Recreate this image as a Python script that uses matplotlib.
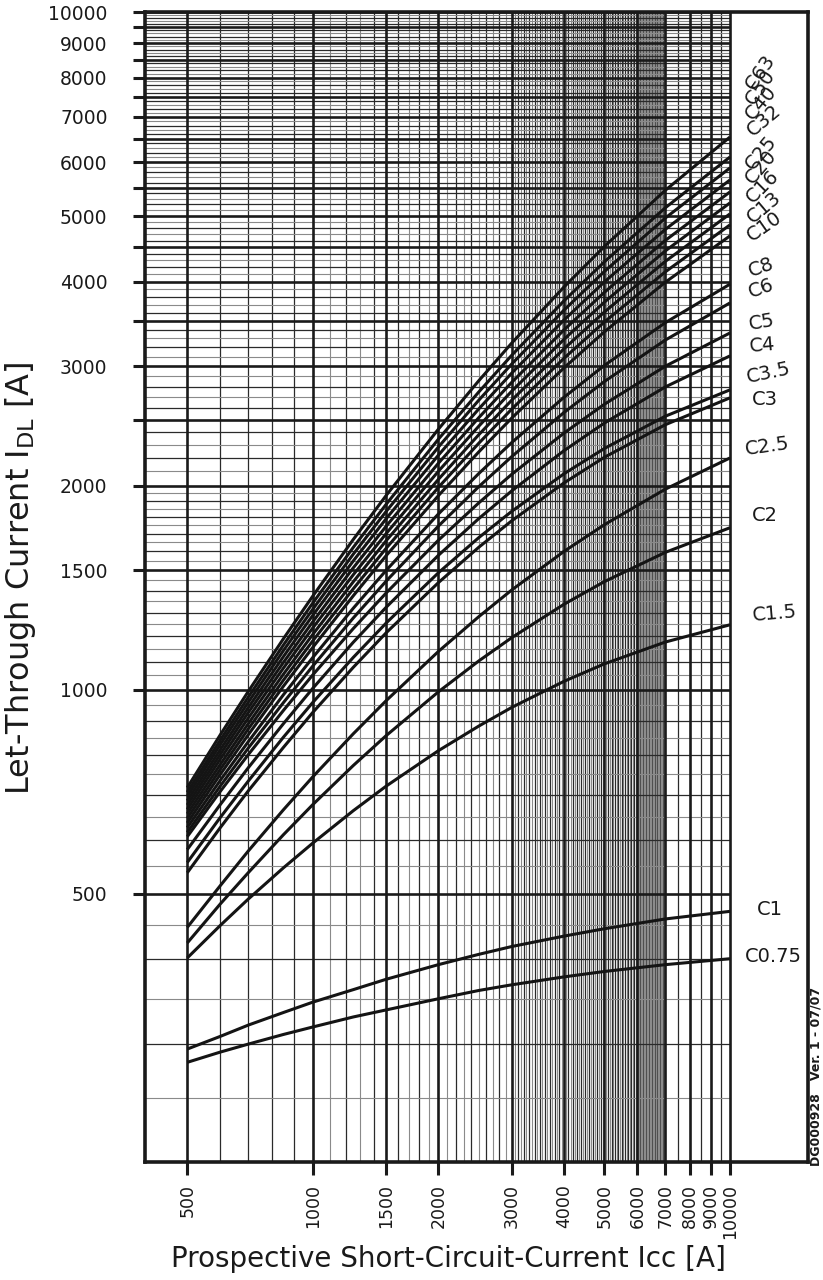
import numpy as np
import matplotlib
matplotlib.use("Agg")
import matplotlib.pyplot as plt
from matplotlib.ticker import FixedLocator, FixedFormatter, NullLocator

# ---------------- data ----------------
x_points = [500, 600, 700, 850, 1000, 1250, 1500, 2000, 2500, 3000, 4000, 5000, 7000, 10000]

C63  = [717, 858, 994, 1189, 1375, 1666, 1936, 2424, 2858, 3249, 3929, 4509, 5458, 6540]
C50  = [706, 843, 975, 1164, 1343, 1622, 1879, 2343, 2751, 3117, 3749, 4280, 5143, 6110]
C40  = [696, 830, 958, 1142, 1315, 1585, 1834, 2281, 2675, 3026, 3632, 4142, 4967, 5888]
C32  = [686, 816, 941, 1119, 1288, 1549, 1789, 2219, 2597, 2934, 3512, 3998, 4779, 5652]
C25  = [676, 803, 925, 1097, 1260, 1513, 1744, 2159, 2521, 2843, 3396, 3859, 4603, 5427]
C20  = [666, 790, 908, 1076, 1234, 1478, 1701, 2101, 2449, 2759, 3289, 3732, 4442, 5228]
C16  = [656, 776, 891, 1054, 1207, 1443, 1660, 2044, 2379, 2676, 3185, 3609, 4287, 5037]
C13  = [646, 763, 875, 1033, 1181, 1409, 1618, 1989, 2311, 2596, 3084, 3489, 4137, 4852]
C10  = [636, 750, 858, 1012, 1155, 1376, 1578, 1934, 2244, 2518, 2985, 3374, 3994, 4674]
C8   = [626, 735, 838, 983, 1116, 1319, 1501, 1817, 2085, 2317, 2701, 3010, 3481, 3967]
C6   = [616, 721, 820, 957, 1084, 1276, 1447, 1744, 1994, 2209, 2565, 2850, 3281, 3722]
C5   = [607, 708, 802, 932, 1052, 1231, 1390, 1662, 1887, 2080, 2392, 2638, 3002, 3361]
C4   = [581, 677, 767, 891, 1005, 1175, 1324, 1579, 1789, 1966, 2253, 2475, 2798, 3109]
C3_5 = [556, 648, 733, 851, 958, 1116, 1255, 1488, 1677, 1834, 2083, 2270, 2533, 2770]
C3   = [537, 626, 709, 822, 926, 1079, 1214, 1439, 1623, 1776, 2019, 2203, 2461, 2696]
C2_5 = [446, 514, 578, 665, 744, 861, 964, 1139, 1282, 1404, 1600, 1752, 1977, 2198]
C2   = [423, 483, 537, 611, 677, 773, 856, 993, 1103, 1194, 1337, 1444, 1595, 1734]
C1_5 = [402, 449, 491, 546, 594, 663, 721, 813, 884, 942, 1029, 1092, 1176, 1247]
C1   = [295, 308, 320, 334, 346, 361, 374, 393, 407, 418, 433, 444, 459, 471]
C0_75 = [282, 292, 300, 310, 318, 329, 337, 350, 360, 367, 377, 384, 393, 401]

curve_labels = ["C63", "C50", "C40", "C32", "C25", "C20", "C16", "C13", "C10",
                "C8", "C6", "C5", "C4", "C3.5", "C3", "C2.5", "C2", "C1.5",
                "C1", "C0.75"]
curve_values = [C63, C50, C40, C32, C25, C20, C16, C13, C10, C8, C6, C5, C4,
                C3_5, C3, C2_5, C2, C1_5, C1, C0_75]

x_ticks = [500, 1000, 1500, 2000, 3000, 4000, 5000, 6000, 7000, 8000, 9000, 10000]
x_tick_labels = ["500", "1000", "1500", "2000", "3000", "4000", "5000", "6000",
                 "7000", "8000", "9000", "10000"]
y_ticks = list(range(500, 10001, 500))
y_labelled = [500, 1000, 1500, 2000, 3000, 4000, 5000, 6000, 7000, 8000, 9000, 10000]

# ---------------- layout / style ----------------
label_pos = {  # (x, y, rotation) of the curve labels in the right margin
    "C63": (11100, 7727, 55), "C50": (11100, 7340, 55), "C40": (11100, 6977, 50),
    "C32": (11100, 6630, 40), "C25": (11100, 5888, 50), "C20": (11100, 5615, 50),
    "C16": (11100, 5281, 45), "C13": (11100, 4934, 40), "C10": (11100, 4642, 35),
    "C8": (11100, 4135, 20), "C6": (11100, 3850, 20), "C5": (11100, 3453, 10),
    "C4": (11100, 3205, 5), "C3.5": (10950, 2885, 12), "C3": (11290, 2677, 0),
    "C2.5": (10870, 2259, 8), "C2": (11290, 1806, 0), "C1.5": (11290, 1286, 5),
    "C1": (11600, 474, 0), "C0.75": (10870, 404, 0),
}

W, H = 823, 1280
fig = plt.figure(figsize=(W / 100, H / 100), dpi=100)
ax = fig.add_axes([145 / W, 1 - 1162 / H, (808 - 145) / W, (1162 - 12) / H])
ax.set_xscale("log")
ax.set_yscale("log")
XMIN, XMAX = 396, 15380
YMIN, YMAX = 201, 10000
ax.set_xlim(XMIN, XMAX)
ax.set_ylim(YMIN, YMAX)

DARK = "#2a2a2a"
GRAY = "#8a8a8a"
INK = "#1a1a1a"

# vertical grid
v_heavy = x_ticks
v_dark, v_gray = [], []
for v in range(600, 1000, 100):
    v_dark.append(v)
for v in range(1100, 3000, 100):
    if v in v_heavy:
        continue
    (v_dark if v % 200 == 0 else v_gray).append(v)
for v in range(3050, 6000, 50):
    if v in v_heavy:
        continue
    (v_dark if v % 100 == 0 else v_gray).append(v)
v_dark += [7500, 8500, 9500]
v_band = list(range(6010, 7000, 10))
v_band_dark = list(range(6100, 7000, 100))

ax.vlines(v_gray, YMIN, YMAX, colors=GRAY, linewidths=0.8, zorder=1)
ax.vlines(v_band, YMIN, YMAX, colors="#909090", linewidths=0.6, zorder=1)
ax.vlines(v_band_dark, YMIN, YMAX, colors="#505050", linewidths=0.8, zorder=1.1)
ax.vlines(v_dark, YMIN, YMAX, colors=DARK, linewidths=0.9, zorder=1.2)
ax.vlines(v_heavy, YMIN, YMAX, colors=INK, linewidths=1.9, zorder=1.5)

# horizontal grid
h_heavy = [v for v in range(500, 10001, 500)]
h_dark, h_gray = [], []
for v in range(250, 2000, 50):
    if v in h_heavy:
        continue
    (h_dark if v % 100 == 0 else h_gray).append(v)
for v in range(2100, 10000, 100):
    if v in h_heavy:
        continue
    (h_dark if v % 200 == 0 else h_gray).append(v)

ax.hlines(h_gray, XMIN, 10000, colors=GRAY, linewidths=0.8, zorder=1.3)
ax.hlines(h_dark, XMIN, 10000, colors=DARK, linewidths=0.9, zorder=1.3)
ax.hlines(h_heavy, XMIN, 10000, colors=INK, linewidths=1.9, zorder=1.5)

# curves
for name, vals in zip(curve_labels, curve_values):
    ax.plot(x_points, vals, color="#141414", lw=2.2, solid_capstyle="butt",
            solid_joinstyle="round", zorder=3)
    lx, ly, rot = label_pos[name]
    ax.text(lx, ly, name, fontsize=14, color=INK, rotation=rot,
            rotation_mode="anchor", ha="left", va="center", zorder=4)

# spines and ticks
for s in ax.spines.values():
    s.set_linewidth(2.6)
    s.set_color(INK)

ax.xaxis.set_major_locator(FixedLocator(x_ticks))
ax.xaxis.set_major_formatter(FixedFormatter(x_tick_labels))
ax.xaxis.set_minor_locator(NullLocator())
ax.yaxis.set_major_locator(FixedLocator(y_ticks))
ax.yaxis.set_major_formatter(FixedFormatter([str(v) if v in y_labelled else "" for v in y_ticks]))
ax.yaxis.set_minor_locator(NullLocator())
ax.tick_params(axis="both", which="major", direction="out", length=9, width=2.2,
               color=INK, labelcolor=INK)
ax.tick_params(axis="x", pad=7, labelrotation=90, labelsize=12.5)
ax.tick_params(axis="y", pad=18, labelsize=13.5)

fig.text(448 / W, 1 - 1259 / H, "Prospective Short-Circuit-Current Icc [A]",
         ha="center", va="center", fontsize=20, color=INK)
fig.text(21 / W, 1 - 578 / H, r"Let-Through Current I$_{\mathregular{DL}}$ [A]",
         ha="center", va="center", rotation=90, fontsize=23, color=INK)
fig.text(816 / W, 1 - 1166 / H, "DG000928   Ver. 1 - 07/07", ha="center", va="bottom",
         rotation=90, fontsize=9, fontweight="bold", color=INK)

fig.savefig("out.png", dpi=100, facecolor="white")
